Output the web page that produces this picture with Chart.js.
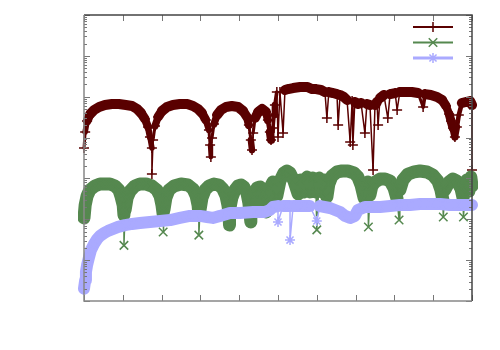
<!DOCTYPE html>
<html>
<head>
<meta charset="utf-8">
<script src="https://cdn.jsdelivr.net/npm/chart.js@4"></script>
<style>
  body { margin: 0; background: #fff; }
  #chart { display: block; }
</style>
</head>
<body>
<canvas id="chart" width="500" height="350"></canvas>
<script>
// values (x: 0..1000, y: log scale 1e-7..1)
const redX = [0, 3, 8, 16, 26, 39, 54, 72, 90, 108, 124, 137, 147, 157, 165, 170, 175, 175, 178, 183,
	191, 201, 214, 229, 247, 266, 281, 294, 304, 314, 322, 325, 327, 330, 335, 343, 353, 366, 381, 397,
	410, 420, 425, 430, 433, 436, 441, 449, 459, 469, 474, 479, 482, 487, 490, 492, 497, 500, 505, 513, 518,
	526, 539, 557, 575, 588, 598, 611, 621, 626, 631, 642, 652, 655, 660, 670, 678, 686, 691, 693, 698,
	706, 714, 724, 729, 737, 745, 750, 755, 758, 763, 773, 783, 789, 802, 807, 814, 830, 845, 861, 874,
	879, 894, 910, 923, 933, 941, 946, 951, 956, 961, 966, 974, 984, 995, 1000, 1000];
const redY = [5.55e-4, 1.37e-3, 2.54e-3, 3.77e-3, 4.73e-3, 5.60e-3, 6.27e-3, 6.63e-3, 6.63e-3, 6.27e-3,
	5.92e-3, 5.00e-3, 3.99e-3, 2.85e-3, 1.81e-3, 1.03e-3, 5.55e-4, 1.28e-4, 8.72e-4, 1.92e-3,
	3.19e-3, 4.47e-3, 5.60e-3, 6.27e-3, 6.63e-3, 6.63e-3, 5.92e-3, 5.00e-3, 3.99e-3, 2.69e-3,
	1.53e-3, 6.57e-4, 3.34e-4, 9.75e-4, 2.15e-3, 3.57e-3, 4.73e-3, 5.60e-3, 5.92e-3, 5.60e-3,
	4.47e-3, 3.19e-3, 2.03e-3, 8.72e-4, 4.96e-4, 1.29e-3, 3.01e-3, 4.22e-3, 5.00e-3, 4.22e-3,
	2.69e-3, 1.37e-3, 8.72e-4, 1.71e-3, 3.57e-3, 6.27e-3, 1.30e-2, 1.03e-3, 1.30e-2, 1.29e-3, 1.46e-2,
	1.54e-2, 1.63e-2, 1.73e-2, 1.73e-2, 1.54e-2, 1.54e-2, 1.46e-2, 1.30e-2, 3.01e-3, 1.30e-2,
	1.23e-2, 1.16e-2, 2.03e-3, 1.10e-2, 9.83e-3, 8.31e-3, 7.79e-4, 7.85e-3, 6.57e-4, 7.42e-3,
	6.63e-3, 7.01e-3, 1.29e-3, 6.63e-3, 6.27e-3, 1.61e-4, 6.27e-3, 7.42e-3, 2.03e-3, 9.30e-3,
	1.10e-2, 3.01e-3, 1.16e-2, 1.23e-2, 4.73e-3, 1.30e-2, 1.30e-2, 1.30e-2, 1.23e-2, 5.60e-3,
	1.16e-2, 1.10e-2, 9.83e-3, 8.31e-3, 5.92e-3, 3.77e-3, 2.54e-3, 1.71e-3, 1.03e-3, 1.81e-3,
	3.57e-3, 7.01e-3, 7.42e-3, 7.85e-3, 6.27e-3, 1.61e-4];

const greenX = [0, 3, 8, 15, 28, 41, 54, 67, 80, 90, 95, 101, 103, 103, 106, 111, 119, 131, 144, 160,
	175, 188, 196, 201, 204, 204, 206, 211, 219, 232, 250, 268, 281, 289, 294, 296, 296, 299, 304, 312,
	322, 335, 348, 358, 366, 371, 374, 374, 376, 381, 389, 397, 405, 412, 420, 425, 428, 430, 433, 438,
	446, 454, 461, 466, 469, 472, 479,
	487, 497, 505, 515, 523, 531, 541, 552, 559, 567, 575, 582, 590, 598, 600, 606, 613, 621, 626, 631,
	639, 652, 665, 680, 696, 706, 714, 722, 727, 732, 733, 737, 742, 750, 763, 776, 789, 799, 807, 812,
	814, 822, 835, 851, 866, 884, 899, 912, 920, 925, 926, 930, 941, 951, 961, 972, 977, 978, 982, 987,
	992, 997, 1000];
const greenY = [1.08e-5, 2.23e-5, 3.72e-5, 5.21e-5, 6.53e-5, 7.30e-5, 7.30e-5, 7.30e-5, 6.53e-5, 5.21e-5,
	3.72e-5, 2.23e-5, 1.27e-5, 2.3e-6, 1.69e-5, 3.32e-5, 4.93e-5, 6.53e-5, 7.30e-5, 7.30e-5,
	6.53e-5, 5.21e-5, 3.72e-5, 2.23e-5, 1.35e-5, 4.9e-6, 1.69e-5, 3.32e-5, 5.21e-5, 6.53e-5,
	7.30e-5, 6.90e-5, 5.51e-5, 3.72e-5, 2.23e-5, 1.35e-5, 4.1e-6, 1.69e-5, 3.32e-5, 5.21e-5,
	6.53e-5, 7.30e-5, 6.90e-5, 5.51e-5, 3.72e-5, 2.23e-5, 1.35e-5, 7.2e-6, 1.69e-5, 3.32e-5,
	5.21e-5, 6.53e-5, 6.90e-5, 6.17e-5, 4.40e-5, 2.50e-5, 1.35e-5, 8.6e-6, 2.23e-5, 4.16e-5,
	5.83e-5, 6.17e-5, 4.66e-5, 2.65e-5, 1.51e-5, 2.96e-5, 5.83e-5,
	8.18e-5, 3.72e-5, 8.65e-5, 1.36e-4, 1.52e-4, 1.36e-4, 8.65e-5, 4.16e-5, 9.15e-5, 4.66e-5,
	1.08e-4, 4.66e-5, 1.02e-4, 4.66e-5, 5.5e-6, 1.02e-4, 4.66e-5, 9.15e-5, 3.52e-5, 7.30e-5,
	1.14e-4, 1.44e-4, 1.52e-4, 1.52e-4, 1.36e-4, 1.08e-4, 6.90e-5, 3.32e-5, 6.53e-5, 8.18e-5,
	6.5e-6, 3.93e-5, 6.53e-5, 8.18e-5, 9.66e-5, 9.66e-5, 8.65e-5, 5.83e-5, 3.14e-5, 9.6e-6,
	5.21e-5, 9.15e-5, 1.28e-4, 1.44e-4, 1.52e-4, 1.44e-4, 1.21e-4, 8.65e-5, 5.21e-5, 2.96e-5,
	1.14e-5, 5.21e-5, 8.18e-5, 9.66e-5, 8.65e-5, 5.51e-5, 3.32e-5, 1.14e-5, 4.40e-5, 9.15e-5,
	4.93e-5, 1.08e-4, 6.53e-5];

const blueX = [0, 3, 5, 8, 13, 18, 26, 34, 41, 52, 62, 75, 88, 106, 124, 144, 170, 196, 222, 247,
	273, 299, 317, 332, 351, 376, 402, 436, 466, 479, 487, 500, 500, 513, 531, 531, 539, 557, 582, 600,
	608, 634, 660, 673, 686, 698, 706, 724, 737, 763, 789, 814, 840, 866, 892, 918, 943, 969, 1000];
const blueY = [2.0e-7, 3.2e-7, 5.1e-7, 7.6e-7, 1.19e-6, 1.77e-6, 2.5e-6, 3.3e-6, 3.9e-6, 4.6e-6,
	5.2e-6, 5.8e-6, 6.5e-6, 7.2e-6, 7.7e-6, 8.1e-6, 8.6e-6, 9.1e-6, 9.6e-6, 1.08e-5,
	1.21e-5, 1.21e-5, 1.14e-5, 1.08e-5, 1.21e-5, 1.43e-5, 1.43e-5, 1.51e-5, 1.51e-5, 1.69e-5,
	2.00e-5, 2.11e-5, 8.6e-6, 2.11e-5, 2.11e-5, 3.1e-6, 2.11e-5, 2.11e-5, 2.11e-5, 9.1e-6,
	2.11e-5, 1.89e-5, 1.51e-5, 1.21e-5, 1.08e-5, 1.21e-5, 1.69e-5, 2.00e-5, 2.00e-5, 2.00e-5,
	2.11e-5, 2.23e-5, 2.23e-5, 2.37e-5, 2.37e-5, 2.37e-5, 2.23e-5, 2.23e-5, 2.23e-5];

const xMin = 0, xMax = 1000, xStep = 100;
const yMinExp = -7, yMaxExp = 0;

function points(xs, ys) {
	return xs.map((x, i) => ({ x: x, y: ys[i] }));
}

// dense runs are drawn as a wide band that narrows into the dips,
// isolated drops as a thin line
function bandWidth(wide, taperFrom, thinAt) {
	return (c) => {
		const a = c.p0.parsed.y, b = c.p1.parsed.y;
		const r = Math.max(a, b) / Math.min(a, b);
		if (r > thinAt) return 1.5;
		if (r <= taperFrom) return wide;
		return Math.max(3, wide * (thinAt - r) / (thinAt - taperFrom));
	};
}

// gnuplot style box with inward ticks on all four sides
const frame = {
	id: 'frame',
	afterDatasetsDraw(chart) {
		const ctx = chart.ctx;
		const a = chart.chartArea;
		const xs = chart.scales.x, ys = chart.scales.y;
		ctx.save();
		ctx.lineWidth = 1;
		ctx.strokeStyle = '#777';
		for (let v = xMin; v <= xMax; v += xStep) {
			const px = Math.round(xs.getPixelForValue(v)) + 0.5;
			ctx.beginPath();
			ctx.moveTo(px, a.bottom); ctx.lineTo(px, a.bottom - 6);
			ctx.moveTo(px, a.top); ctx.lineTo(px, a.top + 6);
			ctx.stroke();
		}
		for (let e = yMinExp; e <= yMaxExp; e++) {
			for (let m = 1; m <= 9; m++) {
				if (e === yMaxExp && m > 1) break;
				const py = Math.round(ys.getPixelForValue(m * Math.pow(10, e))) + 0.5;
				const len = m === 1 ? 6 : 3;
				ctx.beginPath();
				ctx.moveTo(a.left, py); ctx.lineTo(a.left + len, py);
				ctx.moveTo(a.right, py); ctx.lineTo(a.right - len, py);
				ctx.stroke();
			}
		}
		ctx.lineWidth = 1.5;
		ctx.strokeStyle = '#444';
		ctx.beginPath();
		ctx.moveTo(a.left, a.top); ctx.lineTo(a.right, a.top); ctx.lineTo(a.right, a.bottom);
		ctx.stroke();
		ctx.strokeStyle = '#888';
		ctx.beginPath();
		ctx.moveTo(a.left, a.top); ctx.lineTo(a.left, a.bottom); ctx.lineTo(a.right, a.bottom);
		ctx.stroke();

		// key: short line with marker, no text
		chart.data.datasets.forEach((ds, i) => {
			const y = a.top + 12 + i * 15.5;
			const x0 = a.right - 59, x1 = a.right - 19;
			ctx.strokeStyle = ds.borderColor;
			ctx.lineWidth = ds.keyWidth;
			ctx.beginPath();
			ctx.moveTo(x0, y); ctx.lineTo(x1, y);
			ctx.stroke();
			ctx.lineWidth = ds.pointBorderWidth;
			Chart.helpers.drawPoint(ctx, {
				pointStyle: ds.pointStyle, radius: ds.pointRadius,
				borderWidth: ds.pointBorderWidth, rotation: 0
			}, (x0 + x1) / 2, y);
		});
		ctx.restore();
	}
};

const common = { showLine: true, clip: 6, borderJoinStyle: 'round', borderCapStyle: 'round', pointBorderWidth: 1.5 };

new Chart(document.getElementById('chart'), {
	type: 'scatter',
	data: {
		datasets: [
			Object.assign({}, common, {
				data: points(redX, redY), order: 3,
				borderColor: '#5a0000', borderWidth: 10, keyWidth: 2,
				segment: { borderWidth: bandWidth(10, 1.35, 2.5) },
				pointStyle: 'cross', pointRadius: 5,
				pointBorderColor: '#5a0000', pointBackgroundColor: '#5a0000'
			}),
			Object.assign({}, common, {
				data: points(greenX, greenY), order: 2,
				borderColor: '#55884f', borderWidth: 13, keyWidth: 2,
				segment: { borderWidth: bandWidth(13, 2.4, 2.5) },
				pointStyle: 'crossRot', pointRadius: 6,
				pointBorderColor: '#55884f', pointBackgroundColor: '#55884f'
			}),
			Object.assign({}, common, {
				data: points(blueX, blueY), order: 1,
				borderColor: '#aaaaff', borderWidth: 12, keyWidth: 3,
				segment: { borderWidth: bandWidth(12, 2.15, 2.2) },
				pointStyle: 'star', pointRadius: 5,
				pointBorderColor: '#aaaaff', pointBackgroundColor: '#aaaaff'
			})
		]
	},
	options: {
		responsive: false,
		animation: false,
		events: [],
		layout: { padding: { left: 84, top: 15, right: 28, bottom: 49 } },
		scales: {
			x: { type: 'linear', min: xMin, max: xMax, display: false },
			y: { type: 'logarithmic', min: Math.pow(10, yMinExp), max: Math.pow(10, yMaxExp), display: false }
		},
		plugins: {
			legend: { display: false },
			tooltip: { enabled: false }
		}
	},
	plugins: [frame]
});
</script>
</body>
</html>
